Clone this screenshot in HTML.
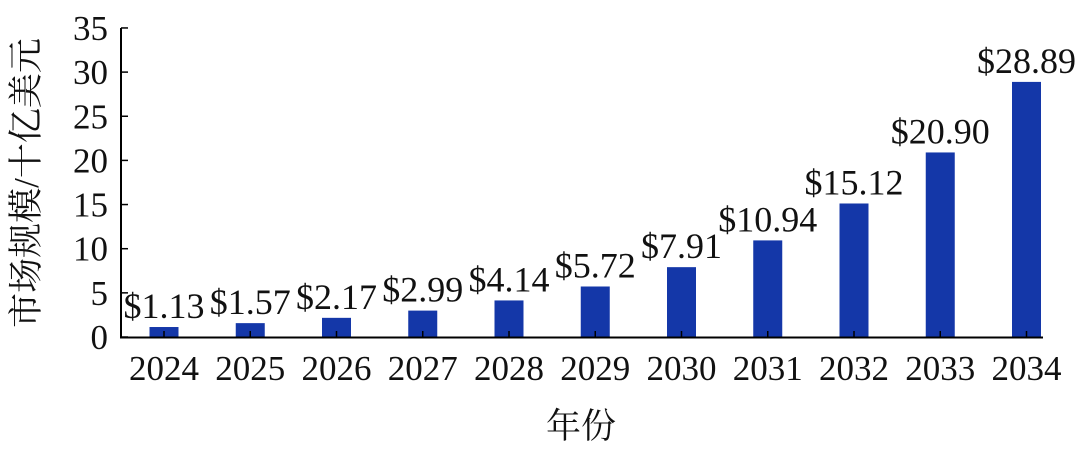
<!DOCTYPE html>
<html><head><meta charset="utf-8"><style>
body{margin:0;background:#fff}
svg text{font-family:"Liberation Serif","Noto Serif CJK SC",serif;fill:#111}
</style></head><body>
<svg width="1080" height="449" viewBox="0 0 1080 449" xmlns="http://www.w3.org/2000/svg">
<g id="bars" fill="#1437a8"></g>
<g id="g"></g>
<line x1="121" y1="28" x2="121" y2="338" stroke="#000" stroke-width="2"/>
<line x1="120" y1="337.5" x2="1043" y2="337.5" stroke="#000" stroke-width="2"/>
<text x="30" y="183" font-size="35" text-anchor="middle" transform="rotate(-90 30 183)" dominant-baseline="middle">市场规模/十亿美元</text>
<text x="581" y="438" font-size="35" text-anchor="middle">年份</text>
<script>
const v=[1.13,1.57,2.17,2.99,4.14,5.72,7.91,10.94,15.12,20.90,28.89];
const s=8.83,b=337,ns="http://www.w3.org/2000/svg";
const g=document.getElementById('g'),bars=document.getElementById('bars');
function el(t,a,p,txt){const e=document.createElementNS(ns,t);for(const k in a)e.setAttribute(k,a[k]);if(txt!=null)e.textContent=txt;p.appendChild(e);}
v.forEach((d,i)=>{const cx=164+i*86.25,h=d*s;
el('rect',{x:cx-14.5,y:b-h,width:29,height:h},bars);
el('line',{x1:cx,y1:b,x2:cx,y2:b-6,stroke:'#000','stroke-width':1.5},g);
el('text',{x:cx,y:b-h-9,'font-size':36,'text-anchor':'middle'},g,'$'+d.toFixed(2));
el('text',{x:cx,y:380,'font-size':35,'text-anchor':'middle'},g,String(2024+i));});
for(let k=0;k<=35;k+=5){const y=b-k*s;
el('line',{x1:121,y1:y,x2:128,y2:y,stroke:'#000','stroke-width':1.5},g);
el('text',{x:108,y:y+12,'font-size':35,'text-anchor':'end'},g,String(k));}
</script>
</svg>
</body></html>
